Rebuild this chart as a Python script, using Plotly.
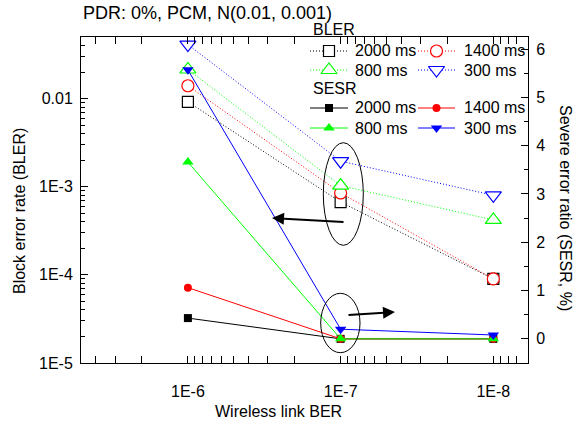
import plotly.graph_objects as go

# ---------------- data ----------------
ber = [1e-6, 1e-7, 1e-8]
ber_labels = ["1E-6", "1E-7", "1E-8"]
delays = ["2000 ms", "1400 ms", "800 ms", "300 ms"]

bler_2000 = [0.0092, 6.7e-4, 9.0e-5]
bler_1400 = [0.0140, 8.5e-4, 9.0e-5]
bler_800 = [0.0214, 1.03e-3, 4.2e-4]
bler_300 = [0.041, 1.95e-3, 8.0e-4]

sesr_2000 = [0.43, 0.0, 0.0]
sesr_1400 = [1.06, 0.0, 0.0]
sesr_800 = [3.66, 0.0, 0.0]
sesr_300 = [5.57, 0.2, 0.08]

bler_ticks = [1e-5, 1e-4, 1e-3, 1e-2]
bler_ticktext = ["1E-5", "1E-4", "1E-3", "0.01"]
sesr_ticks = [0, 1, 2, 3, 4, 5, 6]

# ---------------- styles ----------------
colors = ["#000000", "#FF0000", "#00FF00", "#0000FF"]
bler_sym = ["square", "circle", "triangle-up", "triangle-down"]
bler_size = [11, 12, 14, 14]
sesr_sym = ["square", "circle", "triangle-up", "triangle-down"]
sesr_size = [8, 8, 10, 10]
FONT = "Liberation Sans, Arial, sans-serif"
DOT = "1px,2px"

W, H = 586, 422
L, R, T, B = 81, 528, 37, 363


def pxx(x):
    return (x - L) / (R - L)


def pxy(y):
    return (B - y) / (B - T)


fig = go.Figure()

bler = [bler_2000, bler_1400, bler_800, bler_300]
sesr = [sesr_2000, sesr_1400, sesr_800, sesr_300]

for vals, c, s, sz in zip(bler, colors, bler_sym, bler_size):
    fig.add_trace(go.Scatter(
        x=ber, y=vals, mode="lines+markers", yaxis="y", xaxis="x",
        line=dict(color=c, width=1, dash=DOT),
        marker=dict(symbol=s, size=sz, color="white", line=dict(color=c, width=1.2)),
        showlegend=False, cliponaxis=False, hoverinfo="skip"))

for vals, c, s, sz in zip(sesr, colors, sesr_sym, sesr_size):
    fig.add_trace(go.Scatter(
        x=ber, y=vals, mode="lines+markers", yaxis="y2", xaxis="x",
        line=dict(color=c, width=1),
        marker=dict(symbol=s, size=sz, color=c, line=dict(width=0)),
        showlegend=False, cliponaxis=False, hoverinfo="skip"))

# ---------------- manual legend (pixel-space overlay axes) ----------------
col_x = [(310, 348, 353), (418, 455, 462)]
rows_bler = [51, 70]
rows_sesr = [108, 128]
for i, (d, c) in enumerate(zip(delays, colors)):
    r, col = divmod(i, 2)
    x0, x1, xt = col_x[col]
    for rows, dash, sym, sz, fill in [
        (rows_bler, DOT, bler_sym[i], bler_size[i], "white"),
        (rows_sesr, "solid", sesr_sym[i], sesr_size[i], c),
    ]:
        yy = rows[r]
        fig.add_trace(go.Scatter(
            x=[x0, x1], y=[yy, yy], xaxis="x3", yaxis="y3", mode="lines",
            line=dict(color=c, width=1, dash=dash), showlegend=False,
            cliponaxis=False, hoverinfo="skip"))
        fig.add_trace(go.Scatter(
            x=[(x0 + x1) / 2], y=[yy], xaxis="x3", yaxis="y3", mode="markers",
            marker=dict(symbol=sym, size=sz, color=fill,
                        line=dict(color=c, width=1.2 if fill == "white" else 0)),
            showlegend=False, cliponaxis=False, hoverinfo="skip"))
        fig.add_annotation(x=pxx(xt), y=pxy(yy), xref="paper", yref="paper",
                           text=d, showarrow=False, xanchor="left", yanchor="middle",
                           font=dict(size=16, color="black", family=FONT))

for txt, yy in [("BLER", 30), ("SESR", 89)]:
    fig.add_annotation(x=pxx(311), y=pxy(yy), xref="paper", yref="paper",
                       text=txt, showarrow=False, xanchor="left", yanchor="middle",
                       font=dict(size=16, color="black", family=FONT))

# ---------------- ellipses and arrows ----------------
fig.add_shape(type="circle", xref="paper", yref="paper",
              x0=pxx(323.3), x1=pxx(363.3), y0=pxy(245.3), y1=pxy(142.7),
              line=dict(color="black", width=1))
fig.add_shape(type="circle", xref="paper", yref="paper",
              x0=pxx(320.7), x1=pxx(360), y0=pxy(352.7), y1=pxy(293.3),
              line=dict(color="black", width=1))
fig.add_annotation(x=pxx(272), y=pxy(218), xref="paper", yref="paper", text="",
                   showarrow=True, ax=73, ay=4, axref="pixel", ayref="pixel",
                   arrowhead=2, arrowsize=1.2, arrowwidth=2, arrowcolor="black")
fig.add_annotation(x=pxx(395), y=pxy(312), xref="paper", yref="paper", text="",
                   showarrow=True, ax=-48, ay=3, axref="pixel", ayref="pixel",
                   arrowhead=2, arrowsize=1.2, arrowwidth=2, arrowcolor="black")

# ---------------- titles ----------------
fig.add_annotation(x=pxx(81), y=pxy(13), xref="paper", yref="paper",
                   text="PDR: 0%, PCM, N(0.01, 0.001)", showarrow=False,
                   xanchor="left", yanchor="middle",
                   font=dict(size=18, color="black", family=FONT))
fig.add_annotation(x=pxx(278), y=pxy(411), xref="paper", yref="paper",
                   text="Wireless link BER", showarrow=False,
                   xanchor="center", yanchor="middle",
                   font=dict(size=16, color="black", family=FONT))
fig.add_annotation(x=pxx(19), y=pxy(211), xref="paper", yref="paper",
                   text="Block error rate (BLER)", showarrow=False, textangle=-90,
                   xanchor="center", yanchor="middle",
                   font=dict(size=16, color="black", family=FONT))
fig.add_annotation(x=pxx(566), y=pxy(208), xref="paper", yref="paper",
                   text="Severe error ratio (SESR, %)", showarrow=False, textangle=90,
                   xanchor="center", yanchor="middle",
                   font=dict(size=16, color="black", family=FONT))

# ---------------- axes ----------------
minor_x = [k * 10.0 ** e for e in (-9, -8, -7, -6) for k in range(2, 10)]
minor_y = [k * 10.0 ** e for e in (-5, -4, -3, -2) for k in range(2, 10)]

axis_common = dict(showgrid=False, zeroline=False, showline=True, linecolor="black",
                   linewidth=1, ticks="inside", ticklen=7, tickwidth=1,
                   tickcolor="black", tickfont=dict(size=16, color="black", family=FONT))

fig.update_layout(
    width=W, height=H,
    margin=dict(l=L, r=W - R, t=T, b=H - B, pad=0),
    paper_bgcolor="white", plot_bgcolor="white",
    xaxis=dict(type="log", range=[-5.3, -8.227], tickmode="array", tickvals=ber,
               ticktext=ber_labels, mirror="allticks", ticklabelstandoff=14,
               minor=dict(tickmode="array", tickvals=minor_x, ticks="inside",
                          ticklen=4, tickcolor="black", showgrid=False),
               **axis_common),
    yaxis=dict(type="log", range=[-5, -1.301], tickmode="array", tickvals=bler_ticks,
               ticktext=bler_ticktext, ticklabelstandoff=4,
               minor=dict(tickmode="array", tickvals=minor_y, ticks="inside",
                          ticklen=4, tickcolor="black", showgrid=False),
               **axis_common),
    yaxis2=dict(overlaying="y", side="right", range=[-0.5, 6.25], tickmode="array",
                tickvals=sesr_ticks, ticklabelstandoff=4,
                minor=dict(dtick=0.5, ticks="inside", ticklen=4, tickcolor="black",
                           showgrid=False),
                **axis_common),
    xaxis3=dict(overlaying="x", range=[L, R], visible=False, fixedrange=True),
    yaxis3=dict(overlaying="y", range=[B, T], visible=False, fixedrange=True),
    showlegend=False,
)

fig.write_html("out.html")
